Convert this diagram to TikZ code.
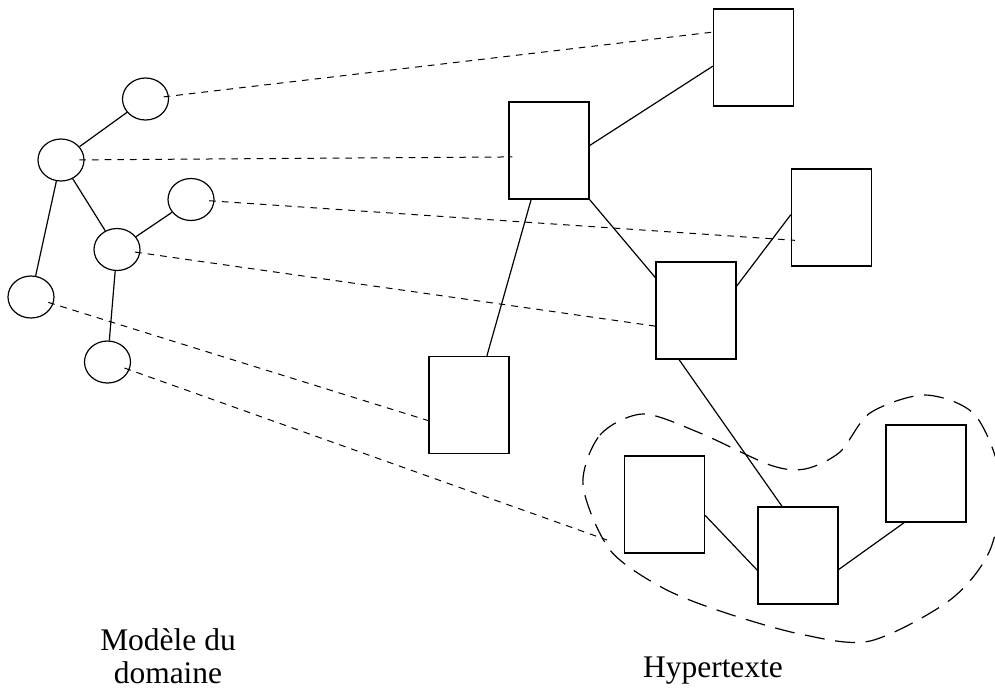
\documentclass[tikz,border=0pt]{standalone}
\usepackage{fontspec}
\setmainfont{Liberation Serif}
\usetikzlibrary{shapes.geometric,calc}

\begin{document}
\begin{tikzpicture}[x=0.75pt,y=-0.75pt,
				concept/.style={ellipse,draw,line width=0.9pt,inner sep=0pt,minimum width=34.5pt,minimum height=31.5pt},
				page/.style={rectangle,draw,line width=1pt,inner sep=0pt,minimum width=60pt,minimum height=72.75pt},
				link/.style={line width=0.9pt},
				corr/.style={line width=0.75pt,dash pattern=on 5pt off 4.5pt,shorten <=-4pt,shorten >=-3pt},
				zone/.style={line width=0.9pt,dash pattern=on 15pt off 8pt},
				label/.style={font=\fontsize{23.6}{24.75}\selectfont,align=center,inner sep=0pt}]
				\useasboundingbox (0,0) rectangle (995,687);
				% domain model
				\node (c1) [concept] at (145.5,99)  {};
				\node (c2) [concept] at (61,160)    {};
				\node (c3) [concept] at (191,199.5) {};
				\node (c4) [concept] at (117,249.5) {};
				\node (c5) [concept] at (31,297)    {};
				\node (c6) [concept] at (107.5,362) {};
				% hypertext pages
				\node (p1) [page] at (753.5,57.5)  {};
				\node (p2) [page] at (549,150.5)   {};
				\node (p3) [page] at (831.5,217.5) {};
				\node (p4) [page] at (696,310.5)   {};
				\node (p5) [page] at (469,405)     {};
				\node (p6) [page] at (664.5,504.5) {};
				\node (p7) [page] at (798,555.5)   {};
				\node (p8) [page] at (926,473.5)   {};
				\coordinate (grp) at (607,540);
				
				\draw[link] (c1) -- (c2) (c2) -- (c4) (c2) -- (c5) (c3) -- (c4) (c4) -- (c6);
				\draw[link] (p2.7) -- (p1.192) (p2.south east) -- (p4.141) (p2.250) -- (p5.70)
					(p4.31) -- (p3.176) (p4.251) -- (p7.108) (p6.345) -- (p7.200) (p7.341) -- (p8.246);
				
				\draw[corr] (c1) -- (p1.148);
				\draw[corr] (c2) -- (p2.189);
				\draw[corr] (c3) -- (p3.209);
				\draw[corr] (c4) -- (p4.201);
				\draw[corr] (c5) -- (p5.201);
				\draw[corr,shorten >=0pt] (c6) -- (grp);
				
				\draw[zone] plot[smooth cycle] coordinates {(583,485) (600,435) (643,414) (700,433) (770,465) (805,469)
					(840,452) (870,413) (925,395) (975,415) (1001,480) (990,550) (950,600) (870,641) (800,634)
					(723,612) (663,588) (610,550)};
				
				\node (dom) [label,anchor=base] at (168,683) {Modèle du\\domaine};
				\node (hyp) [label,anchor=base] at (713,677) {Hypertexte};
			\end{tikzpicture}
\end{document}
